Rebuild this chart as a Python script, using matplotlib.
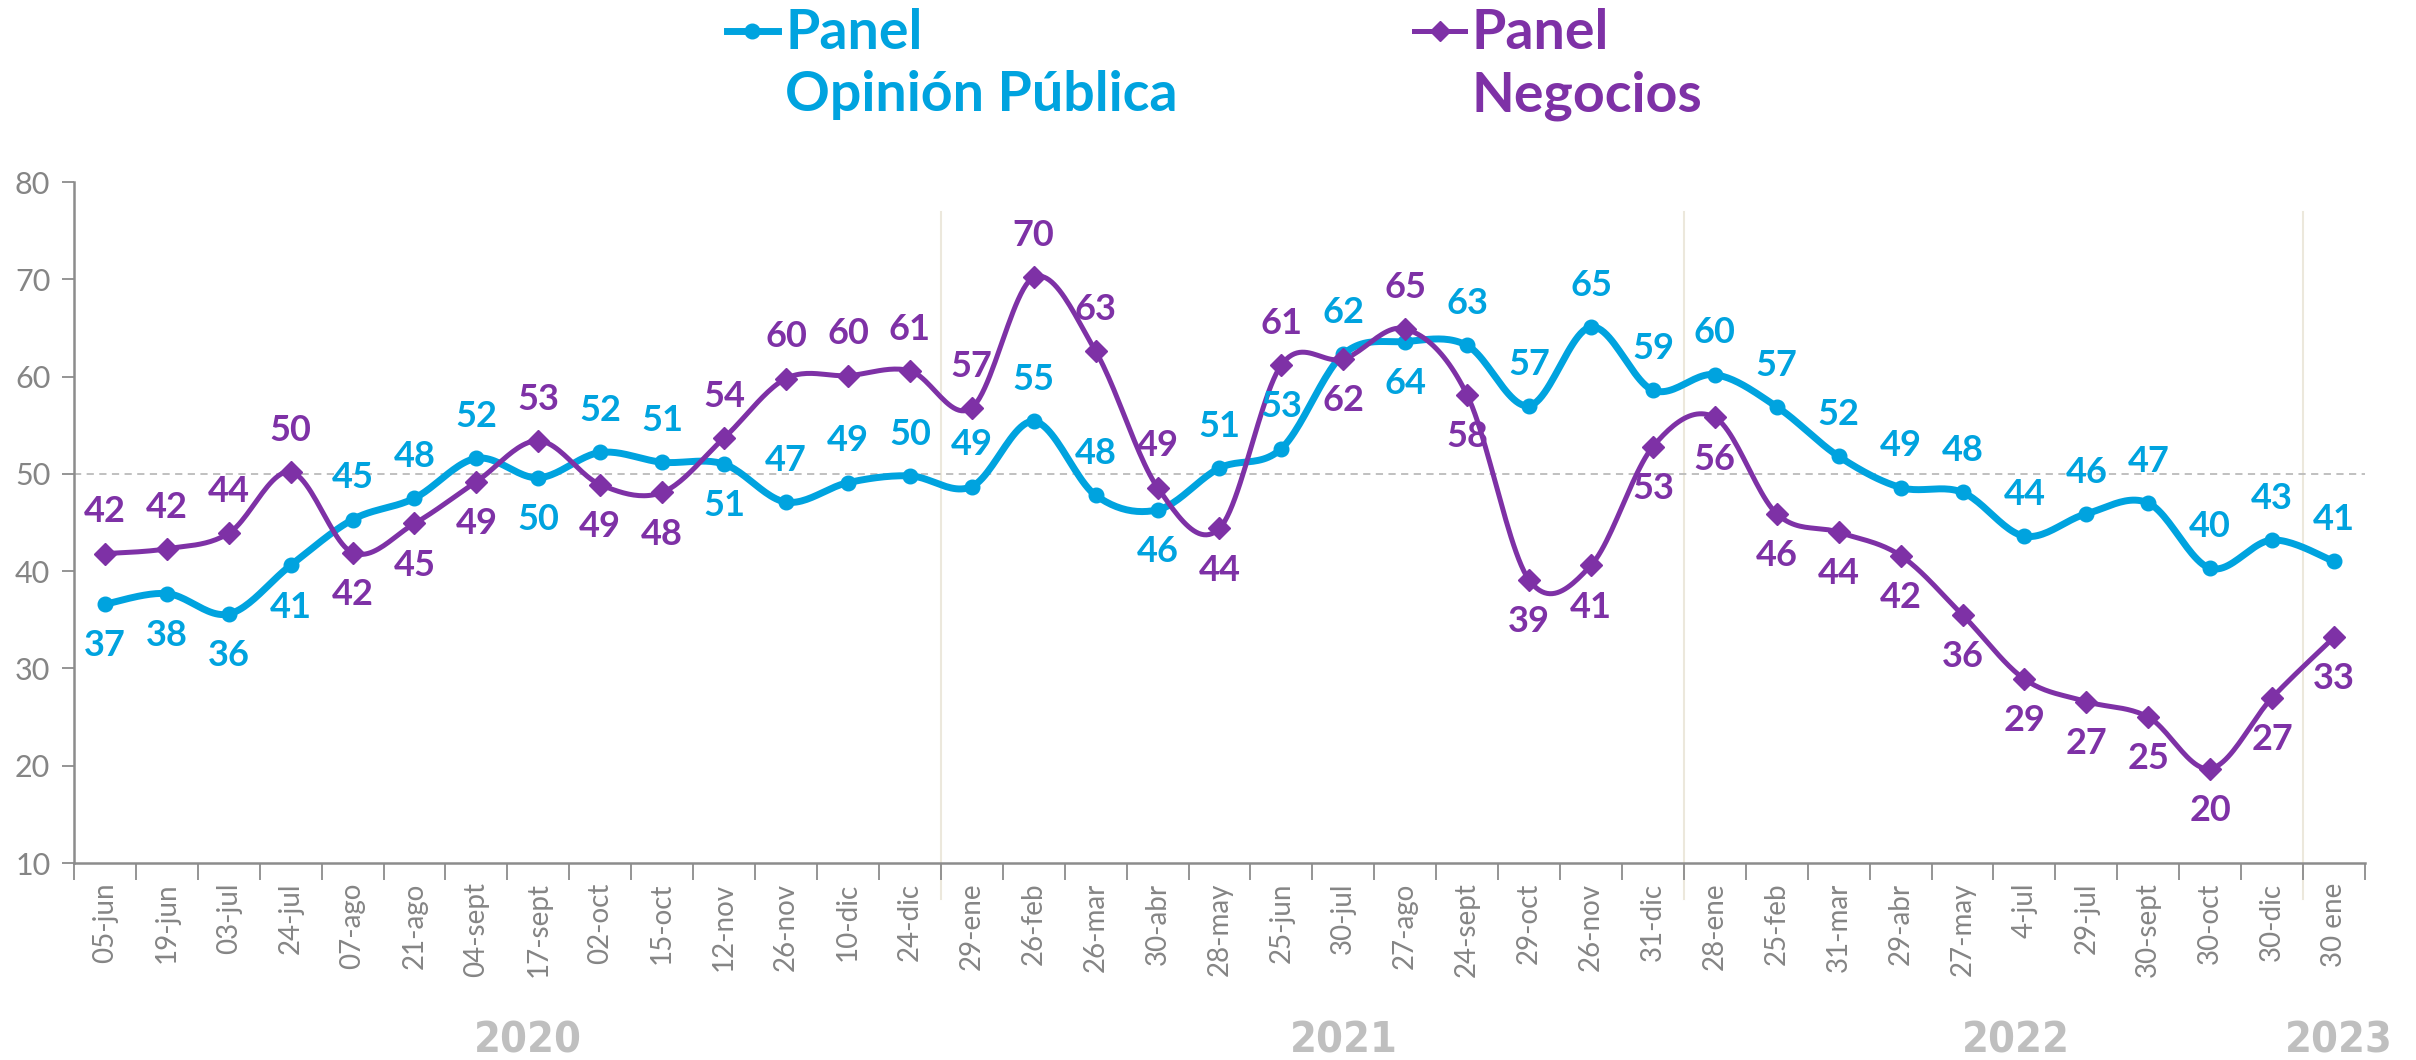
import numpy as np
import matplotlib.pyplot as plt
from matplotlib.lines import Line2D
from matplotlib.transforms import blended_transform_factory

plt.rcParams['font.family'] = ['Lato', 'DejaVu Sans']

'''
Datos
'''
fechas = ['05-jun', '19-jun', '03-jul', '24-jul', '07-ago', '21-ago', '04-sept',
          '17-sept', '02-oct', '15-oct', '12-nov', '26-nov', '10-dic', '24-dic',
          '29-ene', '26-feb', '26-mar', '30-abr', '28-may', '25-jun', '30-jul',
          '27-ago', '24-sept', '29-oct', '26-nov', '31-dic', '28-ene', '25-feb',
          '31-mar', '29-abr', '27-may', '4-jul', '29-jul', '30-sept', '30-oct',
          '30-dic', '30 ene']
opinion = [36.6, 37.7, 35.6, 40.6, 45.3, 47.5, 51.6, 49.6, 52.2, 51.2, 51.0, 47.1,
           49.1, 49.8, 48.7, 55.4, 47.8, 46.3, 50.6, 52.6, 62.3, 63.6, 63.2, 57.0,
           65.1, 58.6, 60.2, 56.9, 51.8, 48.6, 48.1, 43.6, 45.9, 47.0, 40.3, 43.2, 41.0]
negocios = [41.8, 42.3, 43.9, 50.2, 41.9, 44.9, 49.2, 53.4, 48.9, 48.1, 53.7, 59.8,
            60.1, 60.6, 56.8, 70.2, 62.6, 48.6, 44.4, 61.2, 61.8, 64.9, 58.1, 39.1,
            40.6, 52.8, 55.8, 45.9, 44.0, 41.6, 35.5, 28.9, 26.6, 25.0, 19.7, 27.0, 33.2]
# 1 = etiqueta arriba, -1 = abajo
pos_op = [-1, -1, -1, -1, 1, 1, 1, -1, 1, 1, -1, 1, 1, 1, 1, 1, 1, -1, 1, 1, 1, -1,
          1, 1, 1, 1, 1, 1, 1, 1, 1, 1, 1, 1, 1, 1, 1]
pos_neg = [1, 1, 1, 1, -1, -1, -1, 1, -1, -1, 1, 1, 1, 1, 1, 1, 1, 1, -1, 1, -1, 1,
           -1, -1, -1, -1, -1, -1, -1, -1, -1, -1, -1, -1, -1, -1, -1]
anios = ['2020', '2021', '2022', '2023']
anios_x = [6.83, 20.0, 30.86, 36.58]
cortes = [13.5, 25.5, 35.5]

azul = '#00A3DF'
morado = '#7E31A6'
gris = '#858585'


def suave(x, y, n=25):
    # curva tipo Excel (Bezier con tangentes Catmull-Rom)
    pts = np.column_stack([x, y]).astype(float)
    P = np.vstack([pts[0], pts, pts[-1]])
    t = np.linspace(0, 1, n)[:, None]
    out = []
    for i in range(1, len(P) - 2):
        p0, p1, p2, p3 = P[i - 1], P[i], P[i + 1], P[i + 2]
        c1 = p1 + (p2 - p0) / 6
        c2 = p2 - (p3 - p1) / 6
        b = (1 - t)**3 * p1 + 3 * (1 - t)**2 * t * c1 + 3 * (1 - t) * t**2 * c2 + t**3 * p2
        out.append(b if i == 1 else b[1:])
    return np.vstack(out)


x = np.arange(len(fechas))

fig = plt.figure(figsize=(24.16, 10.6), dpi=100)
ax = fig.add_axes([0.0306, 0.1858, 0.9483, 0.6425])

ax.axhline(50, color='#BBBBBB', lw=1.3, ls=(0, (4, 3)), zorder=1)
tr = blended_transform_factory(ax.transData, ax.transAxes)
for c in cortes:
    ax.plot([c, c], [-0.053, 0.956], transform=tr, color='#ECE8DC', lw=1.5,
            clip_on=False, zorder=0)

c_op = suave(x, opinion)
c_neg = suave(x, negocios)
ax.plot(c_op[:, 0], c_op[:, 1], color=azul, lw=5, solid_capstyle='round', zorder=3)
ax.plot(x, opinion, 'o', color=azul, ms=10.5, zorder=4)
ax.plot(c_neg[:, 0], c_neg[:, 1], color=morado, lw=3.6, solid_capstyle='round', zorder=3)
ax.plot(x, negocios, 'D', color=morado, ms=11, zorder=4)

for xi, v, p in zip(x, opinion, pos_op):
    ax.annotate('%d' % round(v), (xi, v), xytext=(0, 30 * p), textcoords='offset points',
                ha='center', va='center', fontsize=26, fontweight='bold', color=azul, zorder=5)
for xi, v, p in zip(x, negocios, pos_neg):
    ax.annotate('%d' % round(v), (xi, v), xytext=(0, 30 * p), textcoords='offset points',
                ha='center', va='center', fontsize=26, fontweight='bold', color=morado, zorder=5)

ax.set_xlim(-0.5, len(fechas) - 0.5)
ax.set_ylim(10, 80)
ax.set_yticks(range(10, 81, 10))
ax.set_xticks(x)
ax.set_xticklabels(fechas, rotation=90, fontsize=20, color=gris)
ax.set_xticks(np.arange(-0.5, len(fechas)), minor=True)
ax.tick_params(axis='x', which='major', length=0, pad=14)
ax.tick_params(axis='x', which='minor', length=12, width=1.3, color='#8C8C8C', direction='out')
ax.tick_params(axis='y', length=9, width=1.3, color='#8C8C8C', labelsize=22,
               labelcolor=gris, pad=8)
for s in ['top', 'right']:
    ax.spines[s].set_visible(False)
for s in ['left', 'bottom']:
    ax.spines[s].set_color('#8C8C8C')
    ax.spines[s].set_linewidth(1.8)

for a, ax_x in zip(anios, anios_x):
    ha = 'right' if a == anios[-1] else 'center'
    px = 36.94 if a == anios[-1] else ax_x
    ax.text(px, -0.26, a, transform=tr, ha=ha, va='center', fontsize=31,
            fontweight='bold', color='#BFBFBF', family='DejaVu Sans', fontstretch='condensed',
            clip_on=False)

# leyenda
W, H = 2416, 1060
for x0, col, mk, txt in [(727, azul, 'o', 'Panel\nOpinión Pública'),
                         (1414, morado, 'D', 'Panel\nNegocios')]:
    fig.add_artist(Line2D([x0 / W, (x0 + 51) / W], [1 - 31 / H, 1 - 31 / H], color=col,
                          lw=5 if mk == 'o' else 3.6, transform=fig.transFigure))
    fig.add_artist(Line2D([(x0 + 25.5) / W], [1 - 31 / H], marker=mk, color=col, ms=10.5,
                          transform=fig.transFigure))
    fig.text((x0 + 58) / W, 1 - 8 / H, txt, ha='left', va='top', fontsize=40,
             fontweight='bold', color=col, linespacing=1.3)

plt.savefig('out.png')
